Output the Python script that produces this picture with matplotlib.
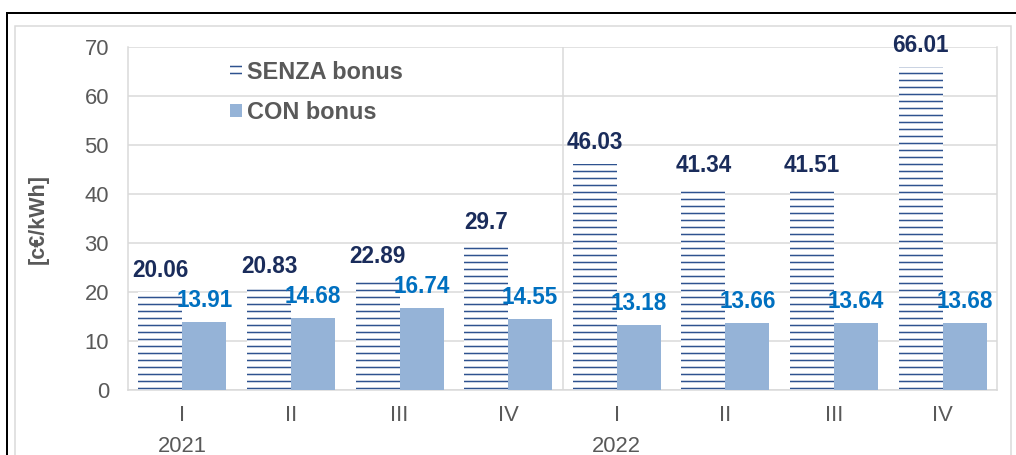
import matplotlib
matplotlib.use("Agg")
import matplotlib.pyplot as plt
from matplotlib.patches import Patch, Rectangle
from matplotlib.lines import Line2D
import numpy as np

categories = ["I", "II", "III", "IV", "I", "II", "III", "IV"]
years = ["2021", "2022"]
year_positions = [0, 4]
senza = [20.06, 20.83, 22.89, 29.7, 46.03, 41.34, 41.51, 66.01]
con = [13.91, 14.68, 16.74, 14.55, 13.18, 13.66, 13.64, 13.68]
senza_labels = ["20.06", "20.83", "22.89", "29.7", "46.03", "41.34", "41.51", "66.01"]
con_labels = ["13.91", "14.68", "16.74", "14.55", "13.18", "13.66", "13.64", "13.68"]

DPI = 84
W, H = 1016, 455
def fs(px):
    return px * 72.0 / DPI

plt.rcParams['font.family'] = ['Liberation Sans', 'DejaVu Sans']
plt.rcParams['hatch.linewidth'] = 1.5 * 72 / DPI

HATCH_C = "#2E528F"
CON_C = "#95B3D7"
SENZA_TXT = "#1A2C5B"
CON_TXT = "#0070C0"
GRAY_TXT = "#595959"
GRID_C = "#D9D9D9"

fig = plt.figure(figsize=(W / DPI, H / DPI), dpi=DPI)
fig.patch.set_facecolor("white")

# outer frames
fig.add_artist(Line2D([7 / W, 7 / W], [0, 1 - 13 / H], transform=fig.transFigure, color="black", lw=fs(2)))
fig.add_artist(Line2D([7 / W, 1], [1 - 13 / H, 1 - 13 / H], transform=fig.transFigure, color="black", lw=fs(2)))
fig.add_artist(Rectangle((15 / W, -0.1), (1011 - 15) / W, 1 - 26 / H + 0.1, transform=fig.transFigure,
                         fill=False, edgecolor=GRID_C, lw=fs(1.5)))

ax = fig.add_axes([128 / W, 1 - 390 / H, (997 - 128) / W, (390 - 47) / H])
x = np.arange(len(categories))
bw = 0.405
b1 = ax.bar(x - bw / 2, senza, bw, facecolor="white", edgecolor=HATCH_C, hatch="--", linewidth=0, zorder=3)
b2 = ax.bar(x + bw / 2, con, bw, color=CON_C, linewidth=0, zorder=3)

off = fs(15)
for xi, v, t in zip(x, senza, senza_labels):
    ax.annotate(t, (xi - bw / 2, v), xytext=(0, off), textcoords="offset points",
                ha="center", va="baseline", fontsize=fs(22.5), fontweight="bold", color=SENZA_TXT, zorder=5)
for xi, v, t in zip(x, con, con_labels):
    ax.annotate(t, (xi + bw / 2, v), xytext=(0, off), textcoords="offset points",
                ha="center", va="baseline", fontsize=fs(22.5), fontweight="bold", color=CON_TXT, zorder=5)

ax.set_xlim(-0.5, len(categories) - 0.5)
ax.set_ylim(0, 70)
ax.set_yticks(np.arange(0, 71, 10))
ax.yaxis.grid(True, color=GRID_C, lw=fs(1.5), zorder=0)
ax.set_axisbelow(True)
ax.axvline(3.5, color=GRID_C, lw=fs(1.5), zorder=1)
for s in ax.spines.values():
    s.set_color(GRID_C)
    s.set_linewidth(fs(1.5))
ax.spines['top'].set_visible(False)
ax.set_xticks(x)
ax.set_xticklabels(categories)
ax.tick_params(axis="x", length=0, pad=fs(15), labelsize=fs(22), labelcolor=GRAY_TXT)
ax.tick_params(axis="y", length=0, pad=fs(19), labelsize=fs(22), labelcolor=GRAY_TXT)

for yp, yl in zip(year_positions, years):
    ax.annotate(yl, (yp, 0), xycoords=("data", "axes fraction"), xytext=(0, -fs(62)),
                textcoords="offset points", ha="center", va="baseline", fontsize=fs(22), color=GRAY_TXT,
                annotation_clip=False)

fig.text(38 / W, 1 - 218.5 / H, "[c€/kWh]", rotation=90, ha="center", va="center",
         fontsize=fs(21.5), fontweight="bold", color=GRAY_TXT)

handles = [Patch(facecolor="white", edgecolor=HATCH_C, hatch="--", linewidth=0, label="SENZA bonus"),
           Patch(facecolor=CON_C, linewidth=0, label="CON bonus")]
leg = fig.legend(handles=handles, loc="upper left", bbox_to_anchor=(230 / W, 1 - 61 / H),
                 frameon=False, prop={"size": fs(23.5), "weight": "bold"}, labelcolor=GRAY_TXT,
                 handlelength=0.52, handleheight=0.48, handletextpad=0.22, labelspacing=0.72,
                 borderpad=0, borderaxespad=0)

fig.savefig("out.png", dpi=DPI)
